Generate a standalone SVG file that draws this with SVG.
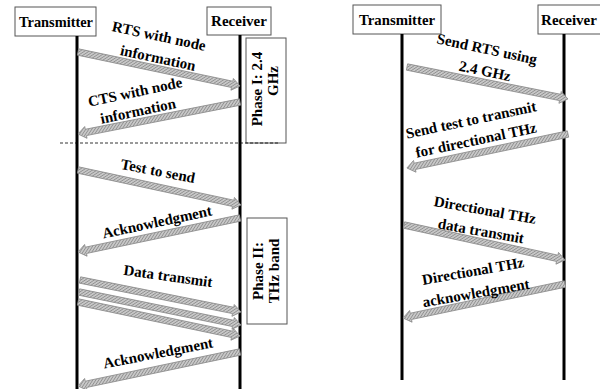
<svg xmlns="http://www.w3.org/2000/svg" width="600" height="389" viewBox="0 0 600 389">
<style>
.box{fill:#fff;stroke:#555;stroke-width:1}
.life{stroke:#000;stroke-width:3;fill:none}
.t{font-family:"Liberation Serif","Times New Roman",serif;font-weight:bold;font-size:15px;fill:#000;text-anchor:middle}
.arr{fill:url(#hatch);stroke:#8c8c8c;stroke-width:0.8}
</style>
<defs>
<pattern id="hatch" width="2.5" height="2.5" patternUnits="userSpaceOnUse" patternTransform="rotate(45)">
<rect width="2.5" height="2.5" fill="#c8c8c8"/>
<line x1="0" y1="0" x2="0" y2="2.5" stroke="#7a7a7a" stroke-width="1.2"/>
</pattern>
</defs>
<rect width="600" height="389" fill="#fff"/>

<g id="left-transmitter">
<rect class="box" x="15" y="7" width="81" height="29"/>
<text class="t" x="56" y="27" textLength="74" lengthAdjust="spacingAndGlyphs">Transmitter</text>
<line class="life" x1="77" y1="36" x2="77" y2="389"/>
</g>
<g id="left-receiver">
<rect class="box" x="207" y="7" width="64" height="28"/>
<text class="t" x="239" y="26">Receiver</text>
<line class="life" x1="240" y1="35" x2="240" y2="389"/>
</g>
<g id="phase1">
<rect class="box" x="246" y="38" width="40" height="105"/>
<text class="t" transform="translate(257,89) rotate(-90)" y="5">Phase I: 2.4</text>
<text class="t" transform="translate(273,81) rotate(-90)" y="5">GHz</text>
</g>
<g id="phase2">
<rect class="box" x="247" y="218" width="40" height="106"/>
<text class="t" transform="translate(258,271) rotate(-90)" y="5">Phase II:</text>
<text class="t" transform="translate(274,271) rotate(-90)" y="5">THz band</text>
</g>
<line x1="60" y1="143" x2="278" y2="143" stroke="#000" stroke-width="0.8" stroke-dasharray="3,2"/>

<g id="right-transmitter">
<rect class="box" x="353" y="5" width="88" height="29"/>
<text class="t" x="397" y="25" textLength="76" lengthAdjust="spacingAndGlyphs">Transmitter</text>
<line class="life" x1="402" y1="34" x2="402" y2="380"/>
</g>
<g id="right-receiver">
<rect class="box" x="538" y="5" width="64" height="29"/>
<text class="t" x="569" y="25">Receiver</text>
<line class="life" x1="564" y1="34" x2="564" y2="380"/>
</g>

<g id="connectors">
<g transform="translate(78,52) rotate(11.85)"><path class="arr" d="M0,-3.2H157.5V-6L165.5,0L157.5,6V3.2H0Z"/></g>
<g transform="translate(240,102) rotate(168.83)"><path class="arr" d="M0,-3.2H157.1V-6L165.1,0L157.1,6V3.2H0Z"/></g>
<g transform="translate(78,170) rotate(12.12)"><path class="arr" d="M0,-3.2H158.7V-6L166.7,0L158.7,6V3.2H0Z"/></g>
<g transform="translate(240,218) rotate(168.15)"><path class="arr" d="M0,-3.2H157.5V-6L165.5,0L157.5,6V3.2H0Z"/></g>
<g transform="translate(80,280) rotate(11.24)"><path class="arr" d="M0,-3.2H156.1V-6L164.1,0L156.1,6V3.2H0Z"/></g>
<g transform="translate(79,292) rotate(11.51)"><path class="arr" d="M0,-3.2H157.3V-6L165.3,0L157.3,6V3.2H0Z"/></g>
<g transform="translate(78,302) rotate(11.85)"><path class="arr" d="M0,-3.2H157.5V-6L165.5,0L157.5,6V3.2H0Z"/></g>
<g transform="translate(240,352) rotate(168.15)"><path class="arr" d="M0,-3.2H157.5V-6L165.5,0L157.5,6V3.2H0Z"/></g>
<g transform="translate(407,67) rotate(11.24)"><path class="arr" d="M0,-3.2H156.1V-6L164.1,0L156.1,6V3.2H0Z"/></g>
<g transform="translate(568,134) rotate(168.08)"><path class="arr" d="M0,-3.2H156.6V-6L164.6,0L156.6,6V3.2H0Z"/></g>
<g transform="translate(404,225) rotate(12.26)"><path class="arr" d="M0,-3.2H156.8V-6L164.8,0L156.8,6V3.2H0Z"/></g>
<g transform="translate(565,284) rotate(168.15)"><path class="arr" d="M0,-3.2H157.5V-6L165.5,0L157.5,6V3.2H0Z"/></g>
</g>

<g id="labels">
<text class="t" transform="translate(159,36) rotate(12)" y="5">RTS with node</text>
<text class="t" transform="translate(158,58) rotate(12)" y="5">information</text>
<text class="t" transform="translate(135,92) rotate(-12)" y="5">CTS with node</text>
<text class="t" transform="translate(138,111) rotate(-12)" y="5">information</text>
<text class="t" transform="translate(158,171) rotate(11)" y="5">Test to send</text>
<text class="t" transform="translate(157,222) rotate(-12)" y="5">Acknowledgment</text>
<text class="t" transform="translate(168,276) rotate(8)" y="5">Data transmit</text>
<text class="t" transform="translate(158,353) rotate(-11)" y="5">Acknowledgment</text>
<text class="t" transform="translate(487,49) rotate(12)" y="5">Send RTS using</text>
<text class="t" transform="translate(485,71) rotate(12)" y="5">2.4 GHz</text>
<text class="t" transform="translate(471,120) rotate(-12)" y="5">Send test to transmit</text>
<text class="t" transform="translate(476,140) rotate(-12)" y="5">for directional THz</text>
<text class="t" transform="translate(485,210) rotate(10)" y="5">Directional THz</text>
<text class="t" transform="translate(481,231) rotate(10)" y="5">data transmit</text>
<text class="t" transform="translate(473,271) rotate(-10)" y="5">Directional THz</text>
<text class="t" transform="translate(476,293) rotate(-10)" y="5">acknowledgment</text>
</g>
</svg>
